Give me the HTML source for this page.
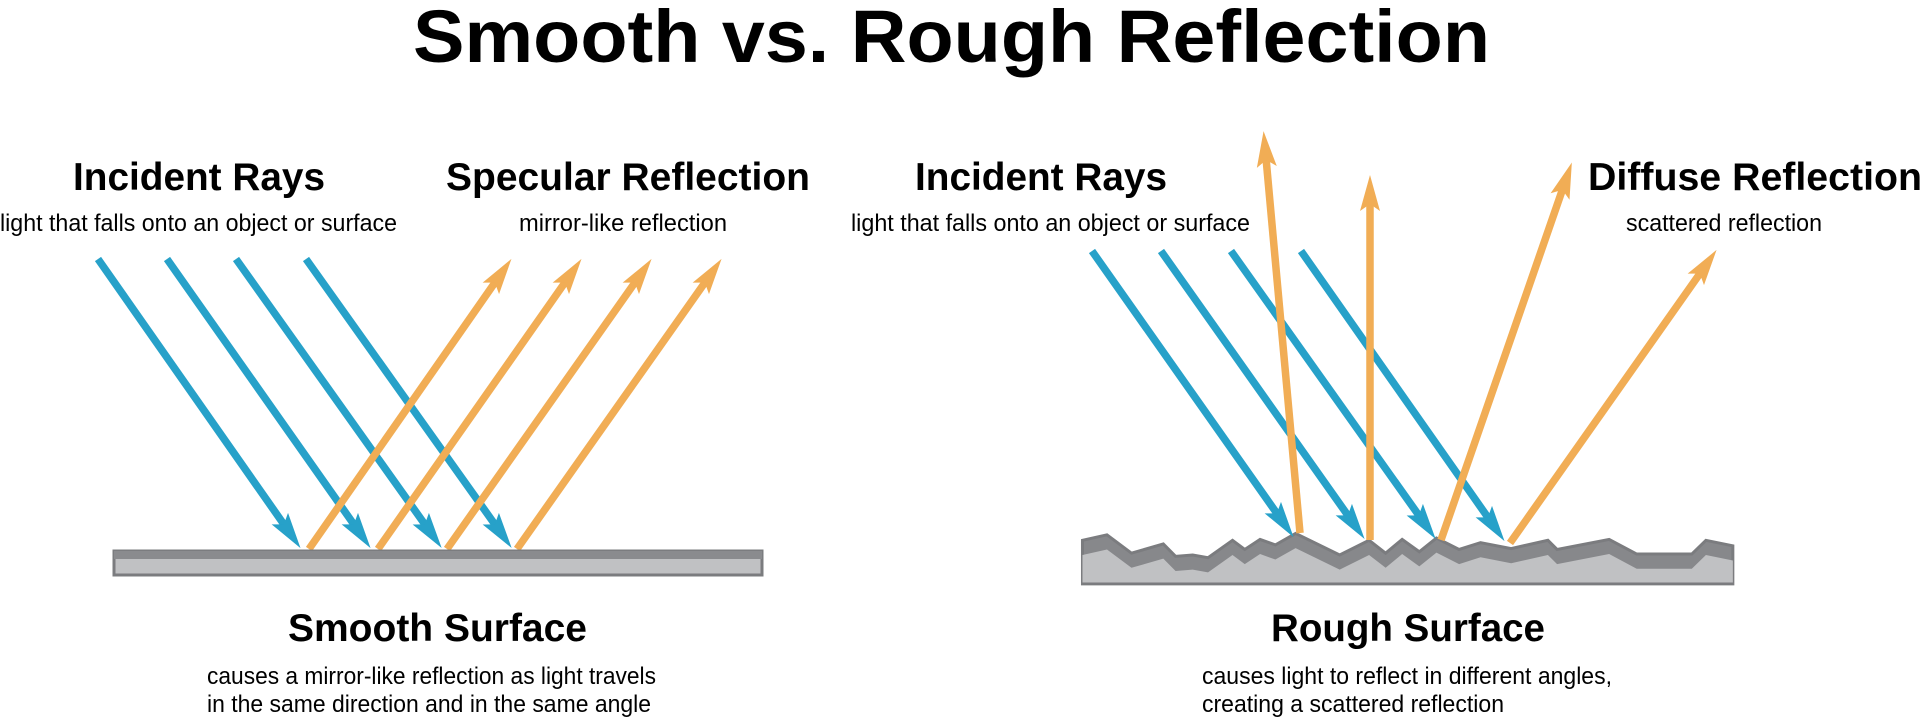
<!DOCTYPE html>
<html><head><meta charset="utf-8"><style>
html,body{margin:0;padding:0;background:#fff;}
svg{display:block;}
text{font-family:"Liberation Sans",sans-serif;fill:#000;}
.h{font-weight:bold;font-size:39px;}
.s{font-size:24px;}
</style></head><body>
<svg width="1920" height="718" viewBox="0 0 1920 718" xmlns="http://www.w3.org/2000/svg">
<defs>
<marker id="b" markerUnits="userSpaceOnUse" markerWidth="36" markerHeight="20" refX="9" refY="10" orient="auto" overflow="visible"><path d="M0,0 L36,10 L0,20 L7,10 Z" fill="#27a1c9"/></marker>
<marker id="o" markerUnits="userSpaceOnUse" markerWidth="36" markerHeight="20" refX="9" refY="10" orient="auto" overflow="visible"><path d="M0,0 L36,10 L0,20 L7,10 Z" fill="#f1ad55"/></marker>
</defs>
<text x="413" y="62" font-weight="bold" font-size="74" textLength="1077" lengthAdjust="spacingAndGlyphs">Smooth vs. Rough Reflection</text>

<text class="h" x="73" y="190" textLength="252" lengthAdjust="spacingAndGlyphs">Incident Rays</text>
<text class="s" x="0" y="231" textLength="397" lengthAdjust="spacingAndGlyphs">light that falls onto an object or surface</text>
<text class="h" x="446" y="190" textLength="364" lengthAdjust="spacingAndGlyphs">Specular Reflection</text>
<text class="s" x="519" y="231" textLength="208" lengthAdjust="spacingAndGlyphs">mirror-like reflection</text>
<text class="h" x="915" y="190" textLength="252" lengthAdjust="spacingAndGlyphs">Incident Rays</text>
<text class="s" x="851" y="231" textLength="399" lengthAdjust="spacingAndGlyphs">light that falls onto an object or surface</text>
<text class="h" x="1588" y="190" textLength="334" lengthAdjust="spacingAndGlyphs">Diffuse Reflection</text>
<text class="s" x="1626" y="231" textLength="196" lengthAdjust="spacingAndGlyphs">scattered reflection</text>

<g stroke-width="7.5" fill="none">
<g stroke="#27a1c9" marker-end="url(#b)">
<line x1="98" y1="259" x2="285" y2="526"/>
<line x1="167" y1="259" x2="355" y2="526"/>
<line x1="236" y1="259" x2="426" y2="526"/>
<line x1="306" y1="259" x2="496" y2="526"/>
</g>
<g stroke="#f1ad55" marker-end="url(#o)">
<line x1="309" y1="549" x2="496" y2="281"/>
<line x1="378" y1="549" x2="566" y2="281"/>
<line x1="447" y1="549" x2="636" y2="281"/>
<line x1="517" y1="549" x2="706" y2="281"/>
</g>
</g>
<rect x="114" y="551" width="648" height="24" fill="#c0c1c3" stroke="#7b7c7f" stroke-width="3"/>
<rect x="114" y="551" width="648" height="8" fill="#8a8b8e"/>

<g transform="translate(960,0) scale(0.6124,0.4579)">
<polygon points="200,1180 240,1168 280,1208 332,1188 352,1215 380,1212 405,1218 445,1180 465,1200 490,1178 515,1190 548,1165 620,1212 668,1180 695,1208 722,1178 750,1205 778,1175 815,1200 850,1185 900,1198 960,1180 975,1200 1060,1178 1105,1210 1195,1210 1218,1180 1262,1192 1262,1275 200,1275" fill="#87888b" stroke="#7b7c7f" stroke-width="3" vector-effect="non-scaling-stroke"/>
<polygon points="200,1212 240,1200 280,1240 332,1220 352,1247 380,1244 405,1250 445,1212 465,1232 490,1210 515,1222 548,1197 620,1244 668,1212 695,1240 722,1210 750,1237 778,1207 815,1232 850,1217 900,1230 960,1212 975,1232 1060,1210 1105,1242 1195,1242 1218,1212 1262,1224 1262,1272 200,1272" fill="#c0c1c3"/>
</g>
<g stroke-width="7.5" fill="none">
<g stroke="#27a1c9" marker-end="url(#b)">
<line x1="1092" y1="251" x2="1278" y2="515"/>
<line x1="1161" y1="251" x2="1349" y2="517"/>
<line x1="1231" y1="251" x2="1420" y2="517"/>
<line x1="1301" y1="251" x2="1489" y2="519"/>
</g>
<g stroke="#f1ad55" marker-end="url(#o)">
<line x1="1300" y1="533" x2="1266" y2="158"/>
<line x1="1370" y1="540" x2="1370" y2="202"/>
<line x1="1441" y1="540" x2="1563" y2="188"/>
<line x1="1510" y1="543" x2="1701" y2="272"/>
</g>
</g>

<text class="h" x="288" y="641" textLength="299" lengthAdjust="spacingAndGlyphs">Smooth Surface</text>
<text class="s" x="207" y="684" textLength="449" lengthAdjust="spacingAndGlyphs">causes a mirror-like reflection as light travels</text>
<text class="s" x="207" y="712" textLength="444" lengthAdjust="spacingAndGlyphs">in the same direction and in the same angle</text>
<text class="h" x="1271" y="641" textLength="274" lengthAdjust="spacingAndGlyphs">Rough Surface</text>
<text class="s" x="1202" y="684" textLength="410" lengthAdjust="spacingAndGlyphs">causes light to reflect in different angles,</text>
<text class="s" x="1202" y="712" textLength="302" lengthAdjust="spacingAndGlyphs">creating a scattered reflection</text>
</svg>
</body></html>
